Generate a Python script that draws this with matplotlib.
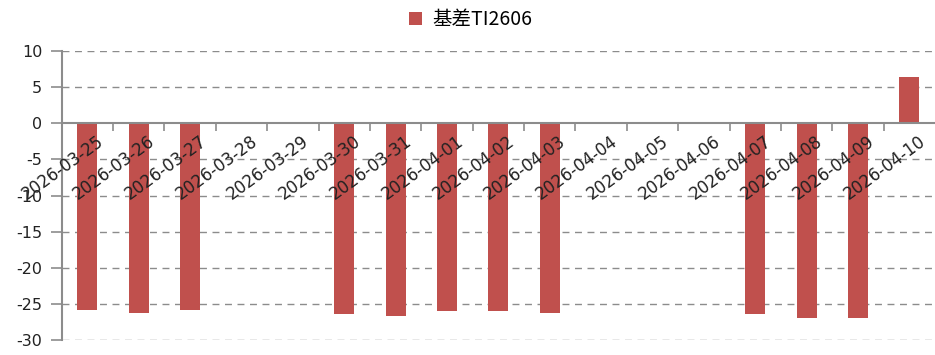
import matplotlib.pyplot as plt
import matplotlib.transforms as mtransforms
from matplotlib.ticker import FixedLocator

plt.rcParams['font.family'] = ['Noto Sans CJK SC', 'DejaVu Sans']
plt.rcParams['axes.unicode_minus'] = False

# daily basis, TI2606 (no value on non-trading days)
dates = ['2026-03-25', '2026-03-26', '2026-03-27', '2026-03-28', '2026-03-29',
         '2026-03-30', '2026-03-31', '2026-04-01', '2026-04-02', '2026-04-03',
         '2026-04-04', '2026-04-05', '2026-04-06', '2026-04-07', '2026-04-08',
         '2026-04-09', '2026-04-10']
basis = [-25.9, -26.2, -25.9, None, None,
         -26.4, -26.6, -26.0, -26.0, -26.2,
         None, None, None, -26.4, -26.9,
         -26.9, 6.4]
series_name = '基差TI2606'
yticks = [10, 5, 0, -5, -10, -15, -20, -25, -30]

red = '#C0504D'
grey = '#8C8C8C'

fig = plt.figure(figsize=(9.35, 3.55), dpi=100)
ax = fig.add_axes([0.066, 0.042, 0.934, 0.814])

xs = [i for i, v in enumerate(basis) if v is not None]
vals = [v for v in basis if v is not None]
ax.bar(xs, vals, width=0.39, color=red, label=series_name, zorder=2)

# dashed gridlines under the bars
for t in yticks:
    if t != 0:
        ax.axhline(t, linestyle=(0, (5, 4)), color=grey, linewidth=1, zorder=0)

ax.set_xlim(-0.5, len(dates) - 0.5)
ax.set_ylim(-30, 10)
ax.set_yticks(yticks)
ax.set_yticklabels([str(t) for t in yticks], fontsize=11.5, family='DejaVu Sans',
                   color='#222222')

for s in ['top', 'right']:
    ax.spines[s].set_visible(False)
ax.spines['left'].set_color(grey)
ax.spines['left'].set_linewidth(1.5)
ax.spines['bottom'].set_position(('data', 0))
ax.spines['bottom'].set_color(grey)
ax.spines['bottom'].set_linewidth(1.5)
ax.tick_params(axis='y', length=8, color=grey, width=1.2, pad=6)

# tick marks fall between categories; date labels drawn on top of the bars
ax.set_xticks([])
ax.xaxis.set_minor_locator(FixedLocator([i + 0.5 for i in range(len(dates) - 1)]))
ax.tick_params(axis='x', which='minor', length=6, color=grey, width=1.2,
               direction='out')

offset = mtransforms.ScaledTranslation(9 / 100, -9 / 100, fig.dpi_scale_trans)
for i, d in enumerate(dates):
    ax.text(i, 0, d, rotation=36, ha='right', va='top', rotation_mode='anchor',
            fontsize=12, family='DejaVu Sans', color='#222222', zorder=5,
            transform=ax.transData + offset, clip_on=False)

fig.legend(loc='center', bbox_to_anchor=(0.503, 0.944), frameon=False,
           fontsize=14, handlelength=0.7, handleheight=0.7, handletextpad=0.5)

fig.savefig('out.png', dpi=100)
